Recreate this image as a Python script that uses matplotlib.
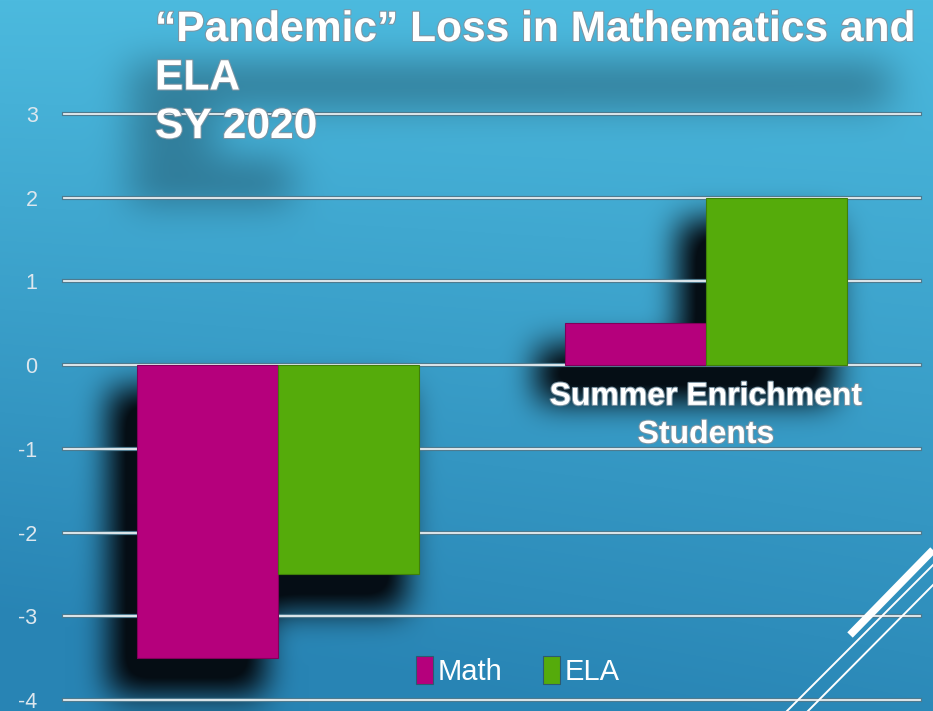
import numpy as np
import matplotlib
matplotlib.use("Agg")
import matplotlib.pyplot as plt
import matplotlib.patheffects as pe

# chart data
groups = ["", "Summer Enrichment\nStudents"]
series = ["Math", "ELA"]
math_vals = [-3.5, 0.5]
ela_vals = [-2.5, 2.0]
yticks = [3, 2, 1, 0, -1, -2, -3, -4]
title = "\u201cPandemic\u201d Loss in Mathematics and\nELA\nSY 2020"

colors = ["#b5007c", "#55ab0b"]
edges = ["#80005a", "#3f7f0a"]

W, H = 933, 711
plt.rcParams['font.family'] = ['Liberation Sans', 'DejaVu Sans']

fig = plt.figure(figsize=(W / 100, H / 100), dpi=100)
bg_ax = fig.add_axes([0, 0, 1, 1], zorder=0)
bg_ax.axis('off')
ax = fig.add_axes([64 / W, 11 / H, 856 / W, 586 / H], zorder=1)
ax.patch.set_alpha(0)

x = np.arange(len(groups))
w = 0.33
bars = []
for i, vals in enumerate([math_vals, ela_vals]):
    b = ax.bar(x + (i - 0.5) * w, vals, w, color=colors[i], edgecolor=edges[i],
               lw=0.8, label=series[i], zorder=3)
    bars += list(b)

ax.set_xlim(-0.5, 1.5)
ax.set_ylim(-4, 3)
ax.set_yticks(yticks)
ax.set_yticklabels([str(t) for t in yticks])
ax.set_xticks([])
for s in ax.spines.values():
    s.set_visible(False)
ax.tick_params(axis='y', length=0, pad=19, labelcolor='#dde7ee', labelsize=15.5)

grid_fx = [pe.withStroke(linewidth=3, foreground='#4f7a8e')]
for t in yticks:
    ax.axhline(t, color='#e8eff2', lw=1.3, zorder=2, clip_on=False, path_effects=grid_fx)

txt_fx = [pe.withStroke(linewidth=1.5, foreground='#7d95a3')]
for gx, g in zip(x, groups):
    ax.text(gx, -0.2, g, ha='center', va='top', fontsize=23, weight='bold',
            color='white', linespacing=1.35, zorder=1, path_effects=txt_fx)

leg = ax.legend(loc='center', bbox_to_anchor=(0.53, 0.05), ncol=2, frameon=False,
                fontsize=21, handlelength=0.6, handleheight=1.1, handletextpad=0.15,
                columnspacing=1.4, labelcolor='white')
for h in leg.legend_handles:
    h.set_edgecolor('#2d5a70')

title_lines = title.split("\n")
title_texts = []
for k, line in enumerate(title_lines):
    tt = fig.text(155 / W, 1 - (41 + k * 48.5) / H, line, ha='left', va='baseline',
                  fontsize=30.6, weight='bold', color='white', path_effects=txt_fx)
    title_texts.append(tt)

# decorative diagonals bottom right
fig.add_artist(plt.Line2D([850 / W, 1.0], [1 - 635 / H, 1 - 550 / H], color='white', lw=5.5,
                          solid_capstyle='butt'))
fig.add_artist(plt.Line2D([787 / W, 1.0], [0, 1 - 565 / H], color='white', lw=1.4))
fig.add_artist(plt.Line2D([808 / W, 1.0], [0, 1 - 585 / H], color='white', lw=1.4))

# background with soft shadows
fig.canvas.draw()
rend = fig.canvas.get_renderer()


def box1d(a, r, axis):
    a = np.moveaxis(a, axis, 0)
    p = np.pad(a, ((r + 1, r), (0, 0)), mode='edge')
    c = np.cumsum(p, axis=0)
    out = (c[2 * r + 1:] - c[:-2 * r - 1]) / (2 * r + 1)
    return np.moveaxis(out, 0, axis)


def blur(a, r, n=3):
    for _ in range(n):
        a = box1d(a, r, 0)
        a = box1d(a, r, 1)
    return a


def rect_mask(artists, dx, dy, grow=0):
    m = np.zeros((H, W))
    for a in artists:
        bb = a.get_window_extent(rend)
        c0, c1 = int(bb.x0 + dx - grow), int(bb.x1 + dx + grow)
        r0, r1 = int(H - bb.y1 + dy - grow), int(H - bb.y0 + dy + grow)
        m[max(r0, 0):max(r1, 0), max(c0, 0):max(c1, 0)] = 1
    return m


rows = np.linspace(0, 1, H)[:, None]
cols = np.linspace(0, 1, W)[None, :]
top = np.array([76, 186, 222]) / 255
bot = np.array([40, 132, 180]) / 255
t = rows * 0.9 + (1 - cols) * rows * 0.25
t = np.clip(t, 0, 1)[..., None]
bg = top * (1 - t) + bot * t

bar_sh = np.clip(blur(rect_mask(bars, -20, 30, grow=6), 15) * 1.15, 0, 0.97)
ttl_sh = blur(rect_mask(title_texts, -25, 55), 18) * 0.35
sh = np.clip(bar_sh + ttl_sh, 0, 1)[..., None]
dark = np.array([4, 10, 16]) / 255
bg = bg * (1 - sh) + dark * sh

bg_ax.imshow(bg, extent=[0, 1, 0, 1], aspect='auto', interpolation='bilinear')
bg_ax.set_xlim(0, 1)
bg_ax.set_ylim(0, 1)

fig.savefig("out.png", dpi=100)
